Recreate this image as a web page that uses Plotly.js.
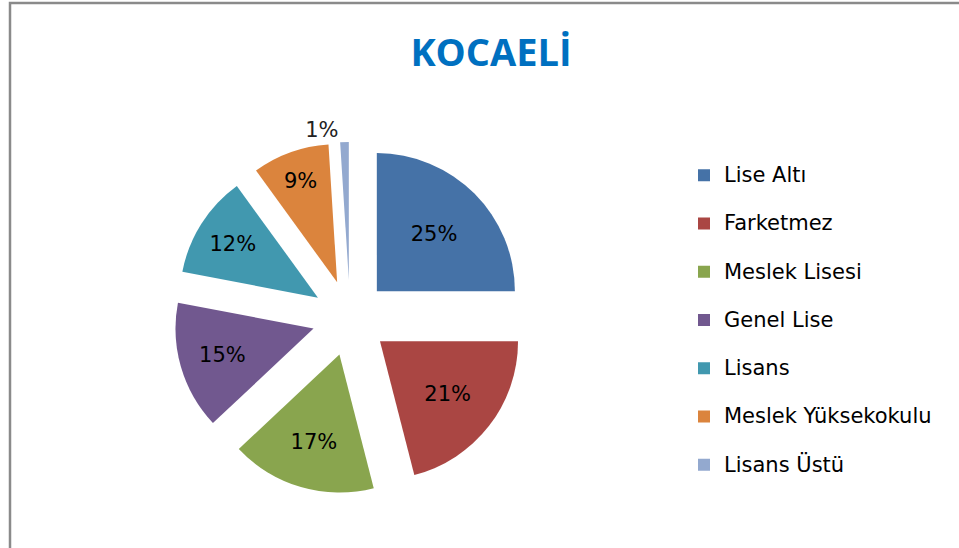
<!DOCTYPE html>
<html>
<head>
<meta charset="utf-8">
<script src="https://cdn.plot.ly/plotly-3.0.1.min.js"></script>
<style>html,body{margin:0;padding:0;background:#fff;}#chart{width:959px;height:548px;}</style>
</head>
<body>
<div id="chart"></div>
<script>
const titleText = "KOCAELİ";
const categories = ["Lise Altı", "Farketmez", "Meslek Lisesi", "Genel Lise", "Lisans", "Meslek Yüksekokulu", "Lisans Üstü"];
const percents = [25, 21, 17, 15, 12, 9, 1];
const colors = ["#4572A7", "#AA4643", "#89A54E", "#71588F", "#4198AF", "#DB843D", "#93A9CF"];
const textPositions = ["inside", "inside", "inside", "inside", "inside", "inside", "outside"];

const W = 959, H = 548;
const legendLabels = categories.map(c => '<span style="font-size:21px">' + c + '</span><br>&nbsp;');

const trace = {
  type: "pie",
  labels: legendLabels,
  values: percents,
  sort: false,
  direction: "clockwise",
  rotation: 0,
  pull: percents.map(() => 0.275),
  marker: {colors: colors, line: {width: 0}},
  textinfo: "percent",
  textposition: textPositions,
  insidetextorientation: "horizontal",
  textfont: {family: "DejaVu Sans", size: 21, color: "#000"},
  outsidetextfont: {family: "DejaVu Sans", size: 21, color: "#222"},
  hoverinfo: "none",
  domain: {x: [174 / W, 526 / W], y: [1 - 494 / H, 1 - 142 / H]}
};

const layout = {
  width: W, height: H,
  margin: {l: 0, r: 0, t: 0, b: 0},
  paper_bgcolor: "#fff",
  title: {
    text: "<b>" + titleText + "</b>",
    font: {family: "Open Sans", size: 38, color: "#0070C0"},
    x: 491 / W, xanchor: "center",
    y: 1 - 53 / H, yanchor: "middle", yref: "container"
  },
  showlegend: true,
  legend: {
    x: 684 / W, xanchor: "left",
    y: 1 - 157.5 / H, yanchor: "top",
    font: {family: "DejaVu Sans", size: 17.4, color: "#000"},
    valign: "top",
    bgcolor: "rgba(0,0,0,0)"
  },
  shapes: [{
    type: "rect", xref: "paper", yref: "paper",
    x0: 10 / W, x1: 1.05, y0: -0.05, y1: 1 - 3 / H,
    line: {color: "#8a8a8a", width: 2.5}
  }]
};

Plotly.newPlot("chart", [trace], layout, {staticPlot: true, displayModeBar: false});
</script>
</body>
</html>
